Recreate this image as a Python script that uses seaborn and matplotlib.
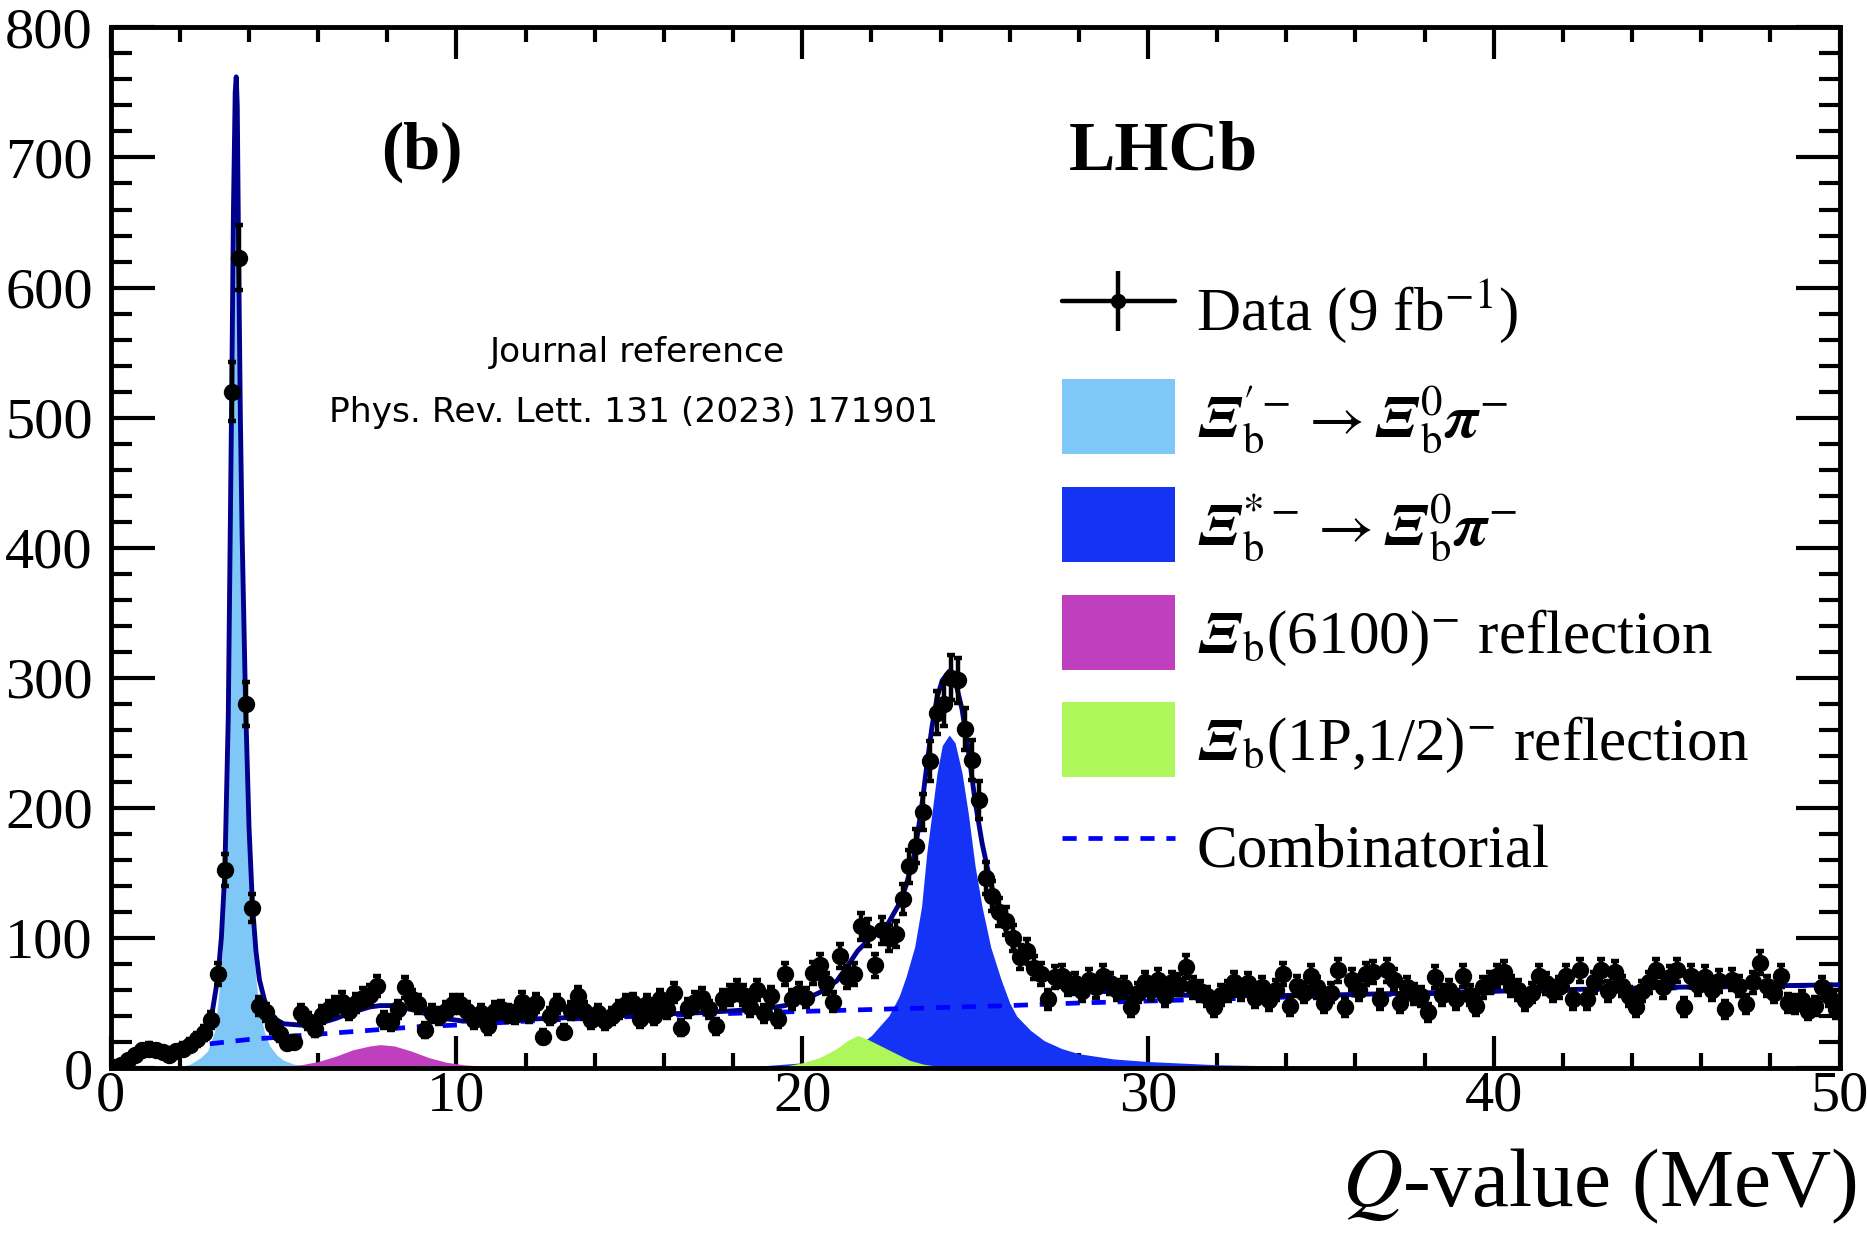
import numpy as np
import matplotlib
matplotlib.use("Agg")
import matplotlib.pyplot as plt
import seaborn as sns
from matplotlib.ticker import MultipleLocator
from matplotlib.patches import Patch
from matplotlib.lines import Line2D
from matplotlib.legend_handler import HandlerTuple
from matplotlib.mathtext import MathTextParser

# ---------------- data ----------------
Q_MIN, Q_MAX, BIN_WIDTH = 0.0, 50.0, 0.2

counts = [
    1, 2, 6, 10, 14, 15, 14, 12, 10, 13,
    15, 18, 22, 27, 37, 72, 152, 520, 623, 280,
    123, 48, 43, 33, 26, 19, 20, 42, 36, 30,
    41, 45, 48, 51, 44, 50, 54, 56, 63, 37,
    35, 45, 62, 53, 49, 29, 42, 40, 44, 49,
    49, 44, 37, 42, 32, 44, 45, 42, 41, 51,
    42, 50, 24, 40, 49, 28, 44, 55, 44, 37,
    42, 36, 40, 45, 49, 50, 38, 49, 40, 53,
    45, 58, 31, 46, 51, 54, 45, 32, 53, 56,
    60, 56, 47, 60, 42, 55, 38, 72, 53, 58,
    54, 73, 79, 65, 51, 86, 70, 72, 109, 104,
    79, 106, 100, 103, 130, 155, 171, 197, 236, 273,
    280, 300, 298, 261, 237, 206, 146, 132, 120, 113,
    100, 85, 90, 77, 72, 53, 70, 71, 64, 65,
    59, 68, 62, 71, 65, 60, 62, 47, 58, 66,
    60, 68, 55, 66, 64, 78, 62, 59, 55, 47,
    56, 59, 66, 60, 65, 54, 62, 52, 60, 72,
    48, 63, 58, 71, 62, 50, 58, 75, 47, 68,
    60, 72, 74, 53, 75, 68, 50, 62, 57, 55,
    43, 70, 56, 60, 53, 71, 56, 48, 62, 66,
    71, 74, 63, 60, 52, 58, 71, 65, 59, 62,
    71, 53, 75, 53, 66, 75, 59, 74, 63, 55,
    47, 59, 66, 75, 62, 70, 75, 47, 71, 64,
    70, 60, 67, 45, 68, 63, 49, 66, 81, 63,
    58, 71, 50, 49, 52, 44, 48, 62, 55, 45,
]

# Xi_b'- signal component (light blue)
xi_prime_q = [2.0, 2.3, 2.6, 2.8, 3.0, 3.1, 3.2, 3.3, 3.4, 3.5, 3.55, 3.6, 3.63,
              3.66, 3.7, 3.75, 3.8, 3.9, 4.0, 4.1, 4.2, 4.3, 4.45, 4.6, 4.8,
              5.0, 5.3, 5.8, 6.5]
xi_prime_y = [1, 3, 8, 13, 28, 50, 80, 130, 250, 500, 640, 730, 742,
              720, 605, 480, 390, 262, 165, 105, 68, 45, 27, 17, 10,
              6, 3, 1, 0]

# Xi_b*- signal component (blue)
xi_star_q = [17.0, 18.0, 19.0, 20.0, 20.5, 21.0, 21.5, 22.0, 22.5, 22.8, 23.0,
             23.25, 23.45, 23.6, 23.75, 23.9, 24.05, 24.25, 24.42, 24.62, 24.8,
             25.0, 25.2, 25.45, 25.75, 26.0, 26.2, 26.6, 27.0, 27.5, 28.0,
             29.0, 30.0, 32.0, 35.0, 40.0, 50.0]
xi_star_y = [0.5, 1, 2, 4, 5.5, 8, 15, 25, 40, 55, 70,
             93, 124, 165, 196, 227, 248, 256, 250, 227, 196,
             155, 124, 93, 68, 50, 40, 29, 21, 15, 11,
             7, 5, 2.5, 1, 0.5, 0]

# Xi_b(6100)- reflection (magenta)
refl6100_q = [4.5, 5.0, 5.5, 6.0, 6.5, 7.0, 7.5, 7.8, 8.2, 8.7, 9.2, 9.7, 10.2, 11.0, 12.0]
refl6100_y = [0, 1, 2.5, 5, 9, 14, 17, 18, 17, 13, 8, 4.5, 2.5, 1, 0]

# Xi_b(1P,1/2)- reflection (green)
refl1p_q = [19.0, 19.5, 20.0, 20.5, 21.0, 21.3, 21.6, 21.9, 22.2, 22.5, 22.8, 23.1, 23.5, 24.0, 24.5]
refl1p_y = [0.5, 1.5, 4, 8, 15, 21, 25, 22, 18, 14, 10, 6, 3, 1, 0]

# combinatorial background (dashed)
comb_q = [0.0, 0.2, 0.5, 1.0, 1.5, 2.0, 3.0, 4.0, 5.0, 6.0, 7.0, 8.0, 9.0, 10.0,
          12.0, 14.0, 16.0, 18.0, 20.0, 22.0, 24.0, 26.0, 28.0, 30.0, 32.0, 34.0,
          36.0, 38.0, 40.0, 42.0, 44.0, 46.0, 48.0, 50.0]
comb_y = [0, 5, 9, 12, 14, 16, 19, 22, 24, 26, 28, 30, 32, 33,
          36, 38.5, 40.5, 42, 43.5, 45, 46.5, 48, 50, 51.5, 53, 54.5,
          56, 57, 58.5, 59.5, 61, 62, 63, 64]

# total fit (solid navy)
total_q = [0.0, 0.2, 0.5, 1.0, 1.5, 2.0, 2.4, 2.7, 2.9, 3.1, 3.2, 3.3, 3.4, 3.5,
           3.55, 3.6, 3.63, 3.66, 3.7, 3.75, 3.8, 3.9, 4.0, 4.1, 4.2, 4.3, 4.45,
           4.6, 4.8, 5.0, 5.5, 6.0, 6.5, 7.0, 7.5, 7.8, 8.2, 8.7, 9.2, 9.7, 10.2,
           11.0, 12.0, 13.0, 14.0, 15.0, 16.0, 17.0, 18.0, 19.0, 19.5, 20.0, 20.5,
           21.0, 21.3, 21.6, 21.9, 22.2, 22.5, 22.8, 23.0, 23.25, 23.45, 23.6,
           23.75, 23.9, 24.05, 24.25, 24.42, 24.62, 24.8, 25.0, 25.2, 25.45, 25.75,
           26.0, 26.2, 26.6, 27.0, 27.5, 28.0, 29.0, 30.0, 32.0, 35.0, 40.0, 45.0, 50.0]
total_y = [0, 5, 9, 12, 14, 17, 21, 28, 37, 70, 100, 150, 270, 520,
           660, 750, 762, 740, 623, 500, 410, 280, 185, 125, 90, 68, 52,
           43, 37, 34, 33, 34, 38, 43, 47, 48, 48, 45, 41, 38, 36,
           37, 37.5, 38.5, 39.5, 40.5, 41.5, 42.5, 44, 46, 48, 52, 58,
           67, 78, 90, 98, 104, 112, 126, 140, 165, 200, 232,
           262, 285, 298, 305, 298, 276, 245, 205, 173, 142, 116,
           98, 88, 77, 70, 64, 61, 58, 56.5, 55.5, 56, 59, 62, 64]

x_ticks_major, x_ticks_minor = 10, 2
y_ticks_major, y_ticks_minor = 100, 20

# ---------------- style ----------------
sns.set_theme(style="ticks")
plt.rcParams["font.family"] = ["Liberation Serif", "DejaVu Serif"]
plt.rcParams["mathtext.fontset"] = "stix"
for key in ("text.color", "axes.labelcolor", "xtick.color", "ytick.color",
            "axes.edgecolor"):
    plt.rcParams[key] = "black"

C_PRIME = "#7fc7f7"
C_STAR = "#1533f5"
C_6100 = "#bf40bf"
C_1P = "#adf75a"
C_TOTAL = "#00008c"
C_COMB = "#0000ff"

_parser = MathTextParser("path")


def _ok(s):
    try:
        _parser.parse(s, dpi=72)
        return True
    except Exception:
        return False


def bold_it(sym):
    for tmpl in (r"\mathbfit{%s}", r"\boldsymbol{%s}", r"\mathit{%s}"):
        cand = tmpl % sym
        if _ok("$" + cand + "$"):
            return cand
    return sym


XI = bold_it(r"\Xi")
PI = bold_it(r"\pi")

lab_data = r"Data (9 fb$^{-1}$)"
lab_prime = r"$%s_{\mathrm{b}}^{\prime -} \rightarrow %s_{\mathrm{b}}^{0}%s^{-}$" % (XI, XI, PI)
lab_star = r"$%s_{\mathrm{b}}^{*-} \rightarrow %s_{\mathrm{b}}^{0}%s^{-}$" % (XI, XI, PI)
lab_6100 = r"$%s_{\mathrm{b}}$(6100)$^{-}$ reflection" % XI
lab_1p = r"$%s_{\mathrm{b}}$(1P,1/2)$^{-}$ reflection" % XI
lab_comb = "Combinatorial"

# ---------------- figure ----------------
fig = plt.figure(figsize=(18.67, 12.34), dpi=100)
ax = fig.add_axes([0.0593, 0.1345, 0.9260, 0.8433])

ax.fill_between(xi_prime_q, 0, xi_prime_y, color=C_PRIME, lw=0, zorder=1)
ax.fill_between(xi_star_q, 0, xi_star_y, color=C_STAR, lw=0, zorder=1.1)
ax.fill_between(refl6100_q, 0, refl6100_y, color=C_6100, lw=0, zorder=1.2)
ax.fill_between(refl1p_q, 0, refl1p_y, color=C_1P, lw=0, zorder=1.3)

sns.lineplot(x=comb_q, y=comb_y, ax=ax, color=C_COMB, lw=3.4,
             linestyle=(0, (3, 2.5)), estimator=None, sort=False, zorder=3)
sns.lineplot(x=total_q, y=total_y, ax=ax, color=C_TOTAL, lw=3.5,
             estimator=None, sort=False, zorder=3.5)

edges = np.linspace(Q_MIN, Q_MAX, len(counts) + 1)
centres = 0.5 * (edges[:-1] + edges[1:])
counts_arr = np.asarray(counts, dtype=float)
ax.errorbar(centres, counts_arr, yerr=np.sqrt(counts_arr), xerr=BIN_WIDTH / 2,
            fmt="o", color="black", ms=11.5, elinewidth=3.2, capsize=3,
            capthick=3.2, zorder=5)

ax.set_xlim(Q_MIN, Q_MAX)
ax.set_ylim(0, 800)
ax.xaxis.set_major_locator(MultipleLocator(x_ticks_major))
ax.xaxis.set_minor_locator(MultipleLocator(x_ticks_minor))
ax.yaxis.set_major_locator(MultipleLocator(y_ticks_major))
ax.yaxis.set_minor_locator(MultipleLocator(y_ticks_minor))
ax.tick_params(which="both", direction="in", top=True, right=True, width=3,
               color="black", labelsize=42, labelcolor="black")
ax.tick_params(axis="x", which="major", length=23, pad=2)
ax.tick_params(axis="x", which="minor", length=11)
ax.tick_params(axis="y", which="major", length=32, pad=13)
ax.tick_params(axis="y", which="minor", length=15)
for sp in ax.spines.values():
    sp.set_linewidth(3.5)
    sp.set_color("black")
ax.set_xlabel("")
ax.set_ylabel("")

# legend
data_handle = (
    Line2D([], [], color="black", lw=3.2),
    Line2D([], [], color="black", marker="|", ms=43, mew=3.2, ls="none"),
    Line2D([], [], color="black", marker="o", ms=10, ls="none"),
)
handles = [
    data_handle,
    Patch(facecolor=C_PRIME, edgecolor="none"),
    Patch(facecolor=C_STAR, edgecolor="none"),
    Patch(facecolor=C_6100, edgecolor="none"),
    Patch(facecolor=C_1P, edgecolor="none"),
    Line2D([], [], color=C_COMB, lw=3.4, linestyle=(0, (3, 2.5))),
]
labels = [lab_data, lab_prime, lab_star, lab_6100, lab_1p, lab_comb]
ax.legend(handles, labels, loc="center left", bbox_to_anchor=(0.550, 0.4708),
          frameon=False, fontsize=44, handlelength=1.85, handleheight=1.52,
          handletextpad=0.35, labelspacing=0.52, borderpad=0, borderaxespad=0,
          numpoints=1, handler_map={tuple: HandlerTuple(ndivide=1)})

# annotations
ax.text(0.18, 0.88, "(b)", transform=ax.transAxes, fontsize=48, fontweight="bold",
        ha="center", va="center")
ax.text(0.554, 0.88, "LHCb", transform=ax.transAxes, fontsize=50, fontweight="bold",
        ha="left", va="center")
ax.text(0.3044, 0.6877, "Journal reference", transform=ax.transAxes, fontsize=24.8,
        family="DejaVu Sans", ha="center", va="center")
ax.text(0.3024, 0.6304, "Phys. Rev. Lett. 131 (2023) 171901", transform=ax.transAxes,
        fontsize=24.8, family="DejaVu Sans", ha="center", va="center")

fig.text(0.9946, 0.0227, "$Q$-value (MeV)", ha="right", va="baseline", fontsize=60)

fig.savefig("out.png", dpi=100)
